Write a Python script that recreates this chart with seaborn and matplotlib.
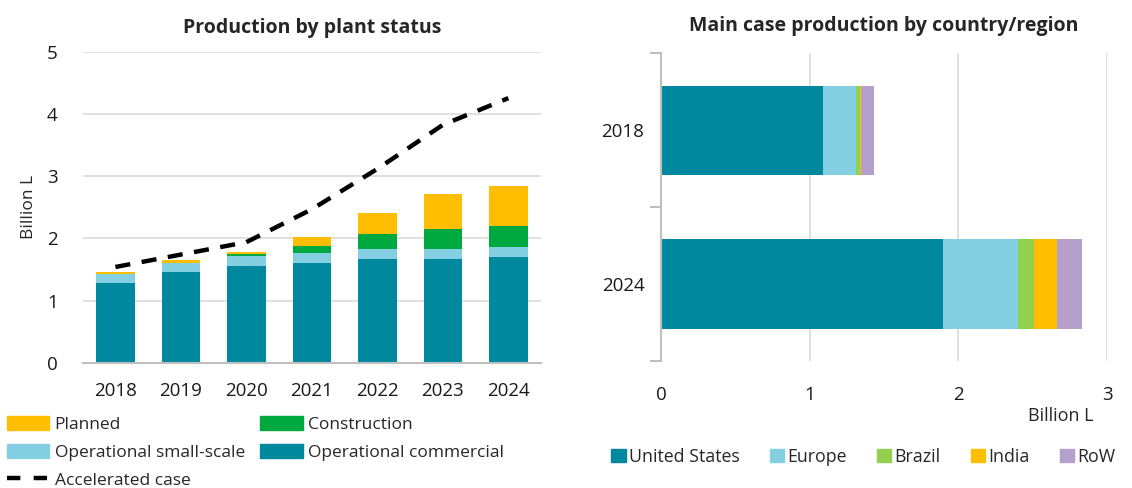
import numpy as np
import pandas as pd
import matplotlib
matplotlib.use("Agg")
import matplotlib.pyplot as plt
import seaborn as sns
from matplotlib.patches import Patch
from matplotlib.lines import Line2D

# --- data -------------------------------------------------------------
years = ["2018", "2019", "2020", "2021", "2022", "2023", "2024"]
op_commercial = [1.28, 1.465, 1.555, 1.60, 1.675, 1.675, 1.70]
op_small_scale = [0.14, 0.135, 0.165, 0.16, 0.155, 0.155, 0.155]
construction = [0.00, 0.00, 0.025, 0.12, 0.235, 0.32, 0.345]
planned = [0.04, 0.05, 0.035, 0.14, 0.345, 0.56, 0.65]
accelerated = [1.54, 1.74, 1.94, 2.47, 3.12, 3.83, 4.26]

region_years = ["2018", "2024"]
regions = ["United States", "Europe", "Brazil", "India", "RoW"]
united_states = [1.087, 1.893]
europe = [0.221, 0.506]
brazil = [0.029, 0.108]
india = [0.009, 0.154]
row = [0.084, 0.170]

# --- styling ----------------------------------------------------------
C_COMM = "#00889E"
C_SMALL = "#84D0E2"
C_CONS = "#00A940"
C_PLAN = "#FFBE00"
C_BRAZIL = "#92D050"
C_ROW = "#B4A0CB"
GRID = "#DADADA"
AXIS = "#BFBFBF"
TXT = "#1a1a1a"
TICK_FS = 13.5

sns.set_theme(style="white")
plt.rcParams["font.family"] = ["Open Sans", "DejaVu Sans"]
plt.rcParams["font.size"] = 12.5

fig = plt.figure(figsize=(11.32, 4.88), dpi=100)
ax1 = fig.add_axes([0.073, 0.257, 0.405, 0.636])
ax2 = fig.add_axes([0.584, 0.260, 0.394, 0.631])

# --- left: production by plant status (stacked columns) ---------------
status = pd.DataFrame({
    "year": years,
    "Operational commercial": op_commercial,
    "Operational small-scale": op_small_scale,
    "Construction": construction,
    "Planned": planned,
})
layers = ["Operational commercial", "Operational small-scale", "Construction", "Planned"]
layer_colors = [C_COMM, C_SMALL, C_CONS, C_PLAN]
cum = status[layers].cumsum(axis=1)
# draw cumulative totals from the top layer down so each layer shows
for name, col in zip(layers[::-1], layer_colors[::-1]):
    sns.barplot(x=status["year"], y=cum[name], color=col, width=0.59,
                saturation=1, ax=ax1, edgecolor="none", linewidth=0)

sns.lineplot(x=np.arange(len(years)), y=accelerated, ax=ax1, color="black",
             linewidth=3.2, dashes=False)
ax1.lines[-1].set_dashes((3.4, 2.6))

ax1.set_ylim(0, 5)
ax1.set_xlim(-0.5, len(years) - 0.5)
ax1.set_yticks(range(0, 6))
ax1.yaxis.grid(True, color=GRID, linewidth=1.2)
ax1.set_axisbelow(True)
for s in ["top", "right", "left"]:
    ax1.spines[s].set_visible(False)
ax1.spines["bottom"].set_color(AXIS)
ax1.spines["bottom"].set_linewidth(1.5)
ax1.tick_params(axis="both", length=0, labelsize=TICK_FS, colors=TXT)
ax1.tick_params(axis="x", pad=14)
ax1.tick_params(axis="y", pad=18)
ax1.set_xlabel("")
ax1.set_ylabel("Billion L", fontsize=12.5)
ax1.yaxis.set_label_coords(-0.10, 0.5)
ax1.set_title("Production by plant status", fontsize=14, fontweight="bold", pad=14)

h1 = [Patch(color=C_PLAN), Patch(color=C_SMALL),
      Line2D([0], [0], color="black", linewidth=3.2, dashes=(3.0, 3.0)),
      Patch(color=C_CONS), Patch(color=C_COMM)]
l1 = ["Planned", "Operational small-scale", "Accelerated case",
      "Construction", "Operational commercial"]
fig.legend(h1, l1, ncol=2, loc="upper left", bbox_to_anchor=(0.006, 0.148),
           frameon=False, fontsize=12.5, handlelength=2.45, handleheight=0.85,
           handletextpad=0.3, columnspacing=0.9, labelspacing=0.64,
           borderaxespad=0, borderpad=0)

# --- right: main case production by country/region (stacked bars) -----
reg = pd.DataFrame({
    "year": region_years,
    "United States": united_states,
    "Europe": europe,
    "Brazil": brazil,
    "India": india,
    "RoW": row,
})
reg_colors = [C_COMM, C_SMALL, C_BRAZIL, C_PLAN, C_ROW]
rcum = reg[regions].cumsum(axis=1)
for name, col in zip(regions[::-1], reg_colors[::-1]):
    sns.barplot(y=reg["year"], x=rcum[name], color=col, width=0.58,
                saturation=1, ax=ax2, orient="h", edgecolor="none", linewidth=0)

ax2.set_xlim(0, 3)
ax2.set_ylim(1.5, -0.5)
ax2.set_xticks([0, 1, 2, 3])
ax2.xaxis.grid(True, color=GRID, linewidth=1.2)
ax2.set_axisbelow(True)
for s in ["top", "right", "bottom"]:
    ax2.spines[s].set_visible(False)
ax2.spines["left"].set_color(AXIS)
ax2.spines["left"].set_linewidth(1.5)
ax2.set_yticks([0, 1])
ax2.set_yticks([-0.5, 0.5, 1.5], minor=True)
ax2.tick_params(axis="y", which="major", length=0, pad=12, labelsize=TICK_FS, colors=TXT)
ax2.tick_params(axis="y", which="minor", length=8, width=1.5, color=AXIS, left=True)
ax2.tick_params(axis="x", length=0, pad=18, labelsize=TICK_FS, colors=TXT)
ax2.set_ylabel("")
ax2.set_xlabel("Billion L", fontsize=13)
ax2.xaxis.set_label_coords(0.895, -0.15)
ax2.set_title("Main case production by country/region", fontsize=14,
              fontweight="bold", pad=16)

h2 = [Patch(color=c) for c in reg_colors]
fig.legend(h2, regions, ncol=5, loc="center left", bbox_to_anchor=(0.540, 0.064),
           frameon=False, fontsize=12.8, handlelength=0.8, handleheight=0.8,
           handletextpad=0.2, columnspacing=1.68, borderaxespad=0, borderpad=0)

fig.savefig("out.png", dpi=100)
